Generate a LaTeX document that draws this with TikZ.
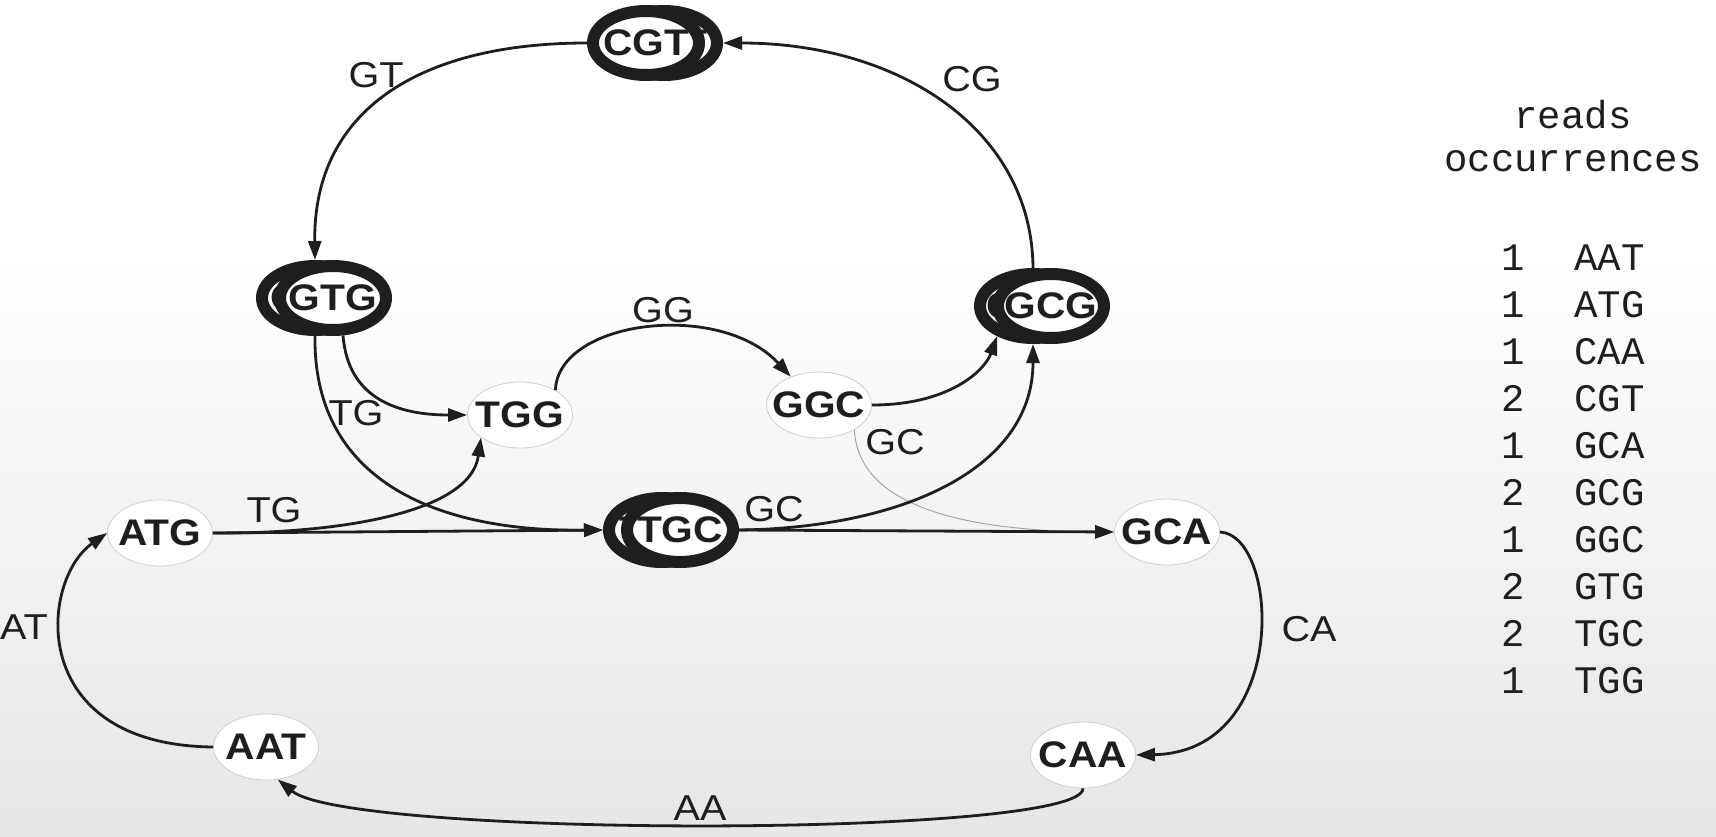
\documentclass[tikz,border=0pt]{standalone}
\usepackage{fontspec}
\setmainfont{Liberation Sans}
\newfontfamily\tabfont{Liberation Mono}
\newfontfamily\widefont[FakeStretch=1.1]{Liberation Sans}
\usetikzlibrary{shapes.geometric,arrows.meta}
\definecolor{ink}{HTML}{1E1E1E}
\definecolor{bgbot}{HTML}{E6E6E6}
\definecolor{rim}{HTML}{CFCFCF}
\begin{document}
\begin{tikzpicture}[x=1pt,y=-1pt,
  dbl/.style={ellipse, draw=ink, line width=12pt, fill=white, minimum width=106pt,
    minimum height=64pt, inner sep=0pt, text=ink,
    font=\widefont\fontsize{37}{42}\selectfont\bfseries},
  lite/.style={ellipse, draw=rim, line width=0.8pt, fill=white, minimum width=105pt,
    minimum height=66pt, inner sep=0pt, text=ink,
    font=\widefont\fontsize{37}{42}\selectfont\bfseries},
  conn/.style={draw=ink, line width=2.8pt, -{Triangle[length=19pt,width=13pt]}},
  thinconn/.style={draw=gray!75, line width=0.9pt, -{Triangle[length=19pt,width=13pt]}},
  lbl/.style={inner sep=0pt, text=ink, font=\widefont\fontsize{36}{42}\selectfont},
  tab/.style={inner sep=0pt, text=ink, font=\fontsize{39}{44}\selectfont\tabfont}
]
% background
\fill[white] (0,0) rectangle (1716,837);
\shade[top color=white, bottom color=bgbot] (0,250) rectangle (1716,837);
\useasboundingbox (0,0) rectangle (1716,837);

% double nodes (back copy first, then front copy)
\node[dbl] (CGTb) at (664,43) {\makebox[0pt]{CGT}};
\node[dbl] (CGT)  at (646,43) {\makebox[0pt]{CGT}};
\node[dbl] (GTGb) at (315,298) {\makebox[0pt]{GTG}};
\node[dbl] (GTG)  at (333,298) {\makebox[0pt]{GTG}};
\node[dbl] (GCGb) at (1033,306) {\makebox[0pt]{GCG}};
\node[dbl] (GCG)  at (1051,306) {\makebox[0pt]{GCG}};
\node[dbl] (TGCb) at (662,530) {\makebox[0pt]{TGC}};
\node[dbl] (TGC)  at (680,530) {\makebox[0pt]{TGC}};

% single nodes
\node[lite] (TGG) at (520,415) {\makebox[0pt]{TGG}};
\node[lite] (GGC) at (819,405) {\makebox[0pt]{GGC}};
\node[lite] (ATG) at (160,533) {\makebox[0pt]{ATG}};
\node[lite] (GCA) at (1167,532) {\makebox[0pt]{GCA}};
\node[lite] (AAT) at (266,747) {\makebox[0pt]{AAT}};
\node[lite] (CAA) at (1083,755) {\makebox[0pt]{CAA}};

% connectors
\draw[thinconn] (GGC.-35) .. controls (858,505) and (960,531) .. (GCA.west);
\draw[conn] (CGT.west) .. controls (420,43) and (313,110) .. (GTGb.north);
\draw[conn] (GCGb.north) .. controls (1032,130) and (900,43) .. (CGTb.east);
\draw[conn] (GTG.-75) .. controls (348,400) and (400,415) .. (TGG.west);
\draw[conn] (GTGb.south) .. controls (313,470) and (420,532) .. (TGCb.west);
\draw[conn] (ATG.east) .. controls (330,534) and (470,515) .. (TGG.210);
\draw[conn] (ATG.east) -- (TGCb.west);
\draw[conn] (TGG.35) .. controls (558,320) and (720,300) .. (GGC.135);
\draw[conn] (GGC.east) .. controls (950,405) and (985,370) .. (GCGb.220);
\draw[conn] (TGC.east) .. controls (900,528) and (1033,470) .. (GCGb.south);
\draw[conn] (TGC.east) -- (GCA.west);
\draw[conn] (GCA.east) .. controls (1280,535) and (1290,752) .. (CAA.east);
\draw[conn] (CAA.south) .. controls (1083,838) and (350,838) .. (AAT.-70);
\draw[conn] (AAT.west) .. controls (25,745) and (40,580) .. (ATG.west);

% edge labels
\node[lbl] (lGT)  at (376,75)  {GT};
\node[lbl] (lCG)  at (972,79)  {CG};
\node[lbl] (lGG)  at (663,310) {GG};
\node[lbl] (lTGa) at (356,413) {TG};
\node[lbl] (lTGb) at (274,510) {TG};
\node[lbl] (lGCa) at (774,509) {GC};
\node[lbl] (lGCb) at (895,442) {GC};
\node[lbl] (lCA)  at (1309,629) {CA};
\node[lbl] (lAT)  at (24,627)  {AT};
\node[lbl] (lAA)  at (700,808) {AA};

% table
\node[tab, anchor=base] (hReads) at (1573,129) {reads};
\node[tab, anchor=base] (hOcc) at (1573,172) {occurrences};
\foreach \c/\r [count=\i from 0] in {1/AAT,1/ATG,1/CAA,2/CGT,1/GCA,2/GCG,1/GGC,2/GTG,2/TGC,1/TGG}{
  \node[tab, anchor=base] (cnt\i) at (1513,270+47.1*\i) {\c};
  \node[tab, anchor=base west] (rd\i) at (1574,270+47.1*\i) {\r};
}
\end{tikzpicture}
\end{document}
